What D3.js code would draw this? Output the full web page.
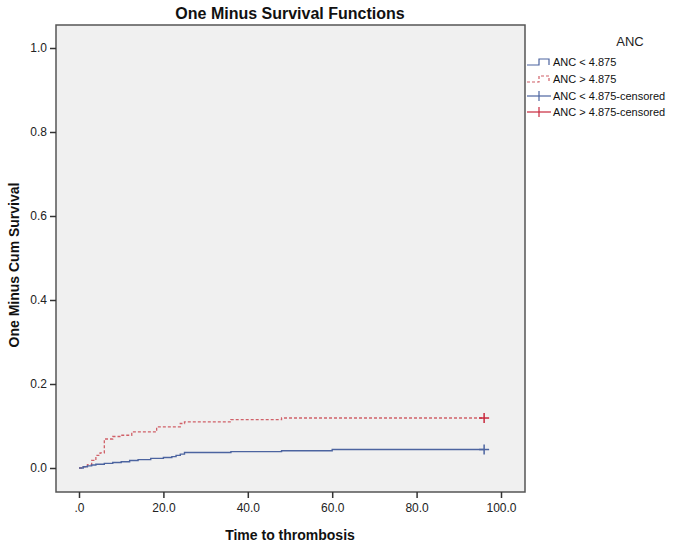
<!DOCTYPE html>
<html><head><meta charset="utf-8">
<script src="https://cdn.jsdelivr.net/npm/d3@7"></script>
<style>body{margin:0;background:#fff;} text{font-family:"Liberation Sans",Arial,sans-serif;}</style>
</head><body>
<svg id="c" width="685" height="546"></svg>
<script>
// Data (time, one-minus-survival)
const blueTimes  = [0, 1, 2, 3, 4, 6, 8, 10, 12, 14, 17, 20, 22, 23, 24, 25, 36, 48, 60, 96];
const blueValues = [0, 0.003, 0.005, 0.007, 0.009, 0.011, 0.013, 0.015, 0.018, 0.020, 0.023, 0.025, 0.027, 0.030, 0.033, 0.037, 0.039, 0.041, 0.044, 0.044];
const redTimes   = [0, 1, 2, 3, 4, 5, 6, 8, 10, 12.5, 18.4, 24, 25, 36, 48, 96];
const redValues  = [0, 0.003, 0.008, 0.018, 0.030, 0.036, 0.069, 0.075, 0.078, 0.086, 0.098, 0.106, 0.110, 0.115, 0.119, 0.119];
const blueCensor = [[96, 0.044]];
const redCensor  = [[96, 0.119]];
const xTicks = [0, 20, 40, 60, 80, 100];
const xTickLabels = [".0", "20.0", "40.0", "60.0", "80.0", "100.0"];
const yTicks = [0, 0.2, 0.4, 0.6, 0.8, 1.0];
const yTickLabels = ["0.0", "0.2", "0.4", "0.6", "0.8", "1.0"];
const legendLabels = ["ANC < 4.875", "ANC > 4.875", "ANC < 4.875-censored", "ANC > 4.875-censored"];

const svg = d3.select("#c");
const L = 56, R = 525, T = 25, B = 492;
const x = d3.scaleLinear().domain([0, 100]).range([79, 501]);
const y = d3.scaleLinear().domain([0, 1]).range([468, 48]);

svg.append("rect").attr("x", L).attr("y", T).attr("width", R - L).attr("height", B - T)
  .attr("fill", "#f0f0f0").attr("stroke", "#555").attr("stroke-width", 1.5);

// axes
const xAxis = d3.axisBottom(x).tickValues(xTicks).tickFormat((d, i) => xTickLabels[i]).tickSize(6).tickSizeOuter(0);
const gx = svg.append("g").attr("transform", `translate(0,${B})`).call(xAxis);
gx.select(".domain").remove();
gx.selectAll("line").attr("stroke", "#333").attr("stroke-width", 1.5);
gx.selectAll("text").attr("font-size", 12).attr("fill", "#222").attr("dy", "0.95em");

const yAxis = d3.axisLeft(y).tickValues(yTicks).tickFormat((d, i) => yTickLabels[i]).tickSize(6).tickSizeOuter(0);
const gy = svg.append("g").attr("transform", `translate(${L},0)`).call(yAxis);
gy.select(".domain").remove();
gy.selectAll("line").attr("stroke", "#333").attr("stroke-width", 1.5);
gy.selectAll("text").attr("font-size", 12).attr("fill", "#222");

const line = d3.line().x(d => x(d[0])).y(d => y(d[1])).curve(d3.curveStepAfter);
const blue = blueTimes.map((t, i) => [t, blueValues[i]]);
const red = redTimes.map((t, i) => [t, redValues[i]]);
const blueCol = "#4c64a0", redCol = "#d06068", redCens = "#c8283c";

svg.append("path").datum(red).attr("d", line).attr("fill", "none")
  .attr("stroke", redCol).attr("stroke-width", 1.3).attr("stroke-dasharray", "3,2");
svg.append("path").datum(blue).attr("d", line).attr("fill", "none")
  .attr("stroke", blueCol).attr("stroke-width", 1.4);

function cross(data, col) {
  data.forEach(d => {
    const cx = x(d[0]), cy = y(d[1]);
    svg.append("line").attr("x1", cx - 5).attr("x2", cx + 5).attr("y1", cy).attr("y2", cy).attr("stroke", col).attr("stroke-width", 1.5);
    svg.append("line").attr("x1", cx).attr("x2", cx).attr("y1", cy - 5).attr("y2", cy + 5).attr("stroke", col).attr("stroke-width", 1.5);
  });
}
cross(blueCensor, blueCol);
cross(redCensor, redCens);

// titles
svg.append("text").attr("x", 290).attr("y", 19).attr("text-anchor", "middle")
  .attr("font-size", 16).attr("font-weight", "bold").attr("fill", "#111").text("One Minus Survival Functions");
svg.append("text").attr("x", 290).attr("y", 540).attr("text-anchor", "middle")
  .attr("font-size", 14).attr("font-weight", "bold").attr("fill", "#111").text("Time to thrombosis");
svg.append("text").attr("transform", "translate(19,265) rotate(-90)").attr("text-anchor", "middle")
  .attr("font-size", 14).attr("font-weight", "bold").attr("fill", "#111").text("One Minus Cum Survival");

// legend
svg.append("text").attr("x", 630).attr("y", 46).attr("text-anchor", "middle")
  .attr("font-size", 13).attr("fill", "#222").text("ANC");
const ly = [62, 79, 96, 112];
const lg = svg.append("g");
legendLabels.forEach((lab, i) => {
  const yy = ly[i];
  lg.append("text").attr("x", 553).attr("y", yy + 4).attr("font-size", 11).attr("fill", "#111").text(lab);
});
lg.append("path").attr("d", `M527,${ly[0]+3}H539V${ly[0]-3}H549V${ly[0]+3}`).attr("fill", "none").attr("stroke", blueCol).attr("stroke-width", 1.2);
lg.append("path").attr("d", `M527,${ly[1]+3}H539V${ly[1]-3}H549V${ly[1]+3}`).attr("fill", "none").attr("stroke", redCol).attr("stroke-width", 1.2).attr("stroke-dasharray", "3,2");
[[2, blueCol], [3, redCens]].forEach(([i, c]) => {
  const yy = ly[i];
  lg.append("line").attr("x1", 527).attr("x2", 551).attr("y1", yy).attr("y2", yy).attr("stroke", c).attr("stroke-width", 1.2);
  lg.append("line").attr("x1", 539).attr("x2", 539).attr("y1", yy - 5).attr("y2", yy + 5).attr("stroke", c).attr("stroke-width", 1.2);
});
</script>
</body></html>
